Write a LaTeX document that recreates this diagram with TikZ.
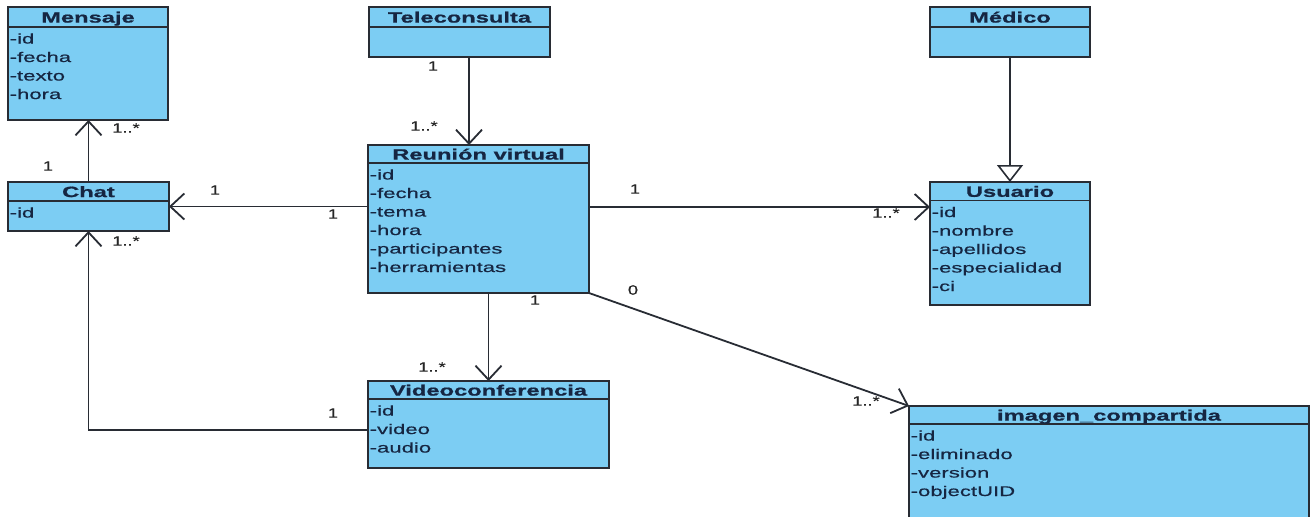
\documentclass[tikz,border=0pt]{standalone}
\usepackage{fontspec}
\setmainfont{Liberation Sans}
\newfontfamily\attrfont{Liberation Sans}[FakeStretch=1.58,FakeBold=0.6]
\newfontfamily\hdrfont{Liberation Sans}[FakeStretch=1.58,FakeBold=0.8]
\newfontfamily\multfont{Liberation Sans}[FakeStretch=1.35,FakeBold=0.6]
\usetikzlibrary{arrows.meta}

\definecolor{classfill}{RGB}{124,205,243}
\definecolor{classtext}{RGB}{22,38,66}
\definecolor{linecol}{RGB}{40,44,52}

\tikzset{
  classbox/.style={draw=linecol, line width=1.7pt, fill=classfill, anchor=north west,
                   inner sep=0pt, outer sep=0pt},
  hdr/.style={font=\hdrfont\bfseries\fontsize{15}{17}\selectfont, text=classtext,
              anchor=base, inner sep=0pt},
  attr/.style={font=\attrfont\fontsize{14}{16}\selectfont, text=classtext,
               anchor=base west, inner sep=0pt},
  mult/.style={font=\multfont\fontsize{13.5}{15}\selectfont, text=black!85, inner sep=0pt},
  assoc/.style={draw=linecol, line width=1.8pt,
                -{Straight Barb[length=14pt,width=26pt,line width=1.8pt]}},
  gen/.style={draw=linecol, line width=1.8pt,
              -{Triangle[open,length=17pt,width=26pt,fill=white,line width=1.6pt]}},
}

% class box: name, x, y, width, height, header height, title
\newcommand\umlclass[7]{%
  \node[classbox, minimum width=#4pt, minimum height=#5pt] (#1) at (#2,#3) {};
  \draw[draw=linecol, line width=1.3pt]
    ([yshift=-#6pt]#1.north west) -- ([yshift=-#6pt]#1.north east);
  \node[hdr] at ([yshift={-(#6/2+5.6)*1pt}]#1.north) {#7};
}
% attribute list: name, header height, list
\newcommand\umlattrs[3]{%
  \foreach \a [count=\i] in {#3}
    \node[attr] at ([xshift=1.5pt, yshift={-(#2+16.5+18.5*(\i-1))*1pt}]#1.north west) {\a};
}

\begin{document}
\begin{tikzpicture}[x=1pt, y=-1pt]
  \fill[white] (0,0) rectangle (1310,517);
  \useasboundingbox (0,0) rectangle (1310,517);

  % classes
  \umlclass{mensaje}{8}{7}{160}{113}{20}{Mensaje}
  \umlattrs{mensaje}{20}{-id,-fecha,-texto,-hora}

  \umlclass{chat}{8}{182}{161}{49}{19}{Chat}
  \umlattrs{chat}{19}{-id}

  \umlclass{tele}{369}{7}{181}{50}{20}{Teleconsulta}

  \umlclass{rv}{368}{145}{221}{148}{18}{Reunión virtual}
  \umlattrs{rv}{18}{-id,-fecha,-tema,-hora,-participantes,-herramientas}

  \umlclass{medico}{930}{7}{160}{50}{20}{Médico}

  \umlclass{usuario}{930}{182}{160}{123}{18.5}{Usuario}
  \umlattrs{usuario}{18.5}{-id,-nombre,-apellidos,-especialidad,-ci}

  \umlclass{video}{368}{381}{241}{87}{18}{Videoconferencia}
  \umlattrs{video}{18}{-id,-video,-audio}

  \umlclass{img}{909}{406}{400}{114}{18}{imagen\_compartida}
  \umlattrs{img}{18}{-id,-eliminado,-version,-objectUID}

  % associations
  \draw[assoc] (chat.north) -- (chat.north |- mensaje.south);
  \draw[assoc] (chat.east -| rv.west) -- (chat.east);
  \draw[assoc] ([yshift=-5.5pt]video.west) -| (chat.south);
  \draw[assoc] ([xshift=9.5pt]tele.south) coordinate (tv) -- (tv |- rv.north);
  \draw[assoc] ([yshift=-62pt]rv.north east) coordinate (ru) -- (ru -| usuario.west);
  \draw[assoc] (video.north |- rv.south) -- (video.north);
  \draw[assoc] (rv.south east) -- (img.north west);
  % generalization
  \draw[gen] (medico.south) -- (usuario.north);

  % multiplicities
  \node[mult] (m1) at (48,166) {1};
  \node[mult] (m2) at (126,128) {1..*};
  \node[mult] (m3) at (215,190) {1};
  \node[mult] (m4) at (333,214) {1};
  \node[mult] (m5) at (126,241) {1..*};
  \node[mult] (m6) at (333,413) {1};
  \node[mult] (m7) at (433,66) {1};
  \node[mult] (m8) at (424,126) {1..*};
  \node[mult] (m9) at (635,189) {1};
  \node[mult] (m10) at (886,213) {1..*};
  \node[mult] (m11) at (535,300) {1};
  \node[mult] (m12) at (432,367) {1..*};
  \node[mult] (m13) at (633,290) {0};
  \node[mult] (m14) at (866,401) {1..*};
\end{tikzpicture}
\end{document}
